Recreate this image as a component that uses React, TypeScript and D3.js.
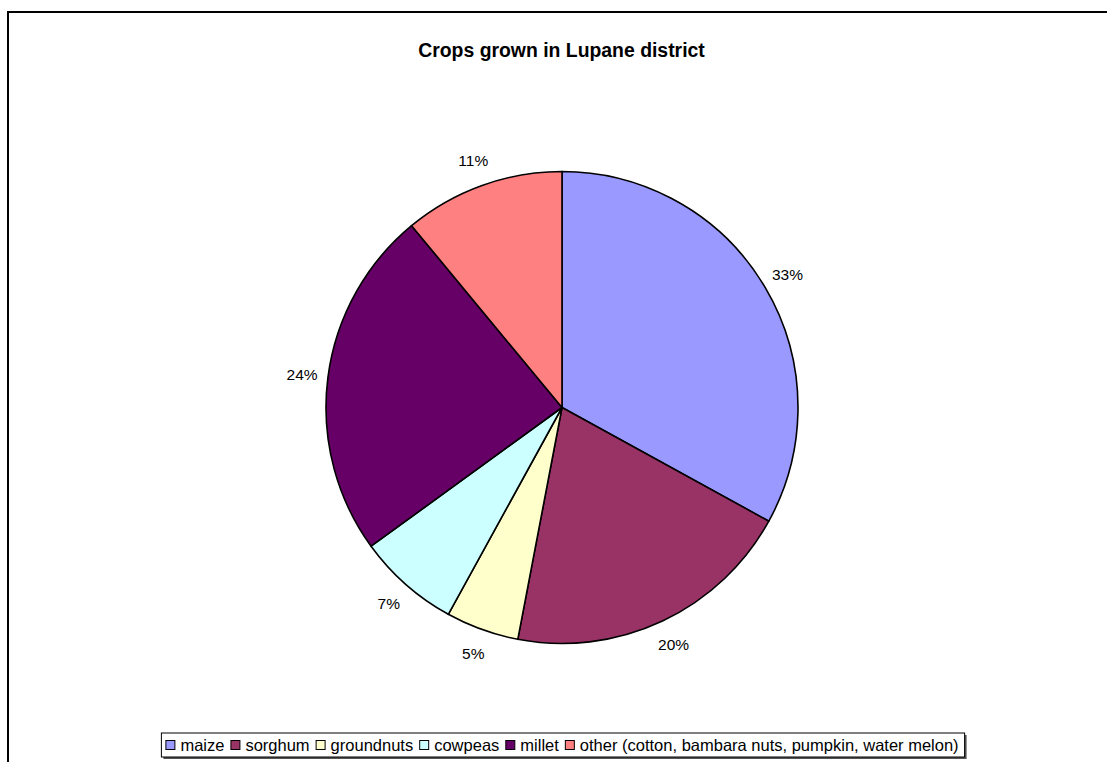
import React, { useEffect, useRef } from "react";
import * as d3 from "d3";

// Share of households growing each crop (percent)
const crops = ["maize", "sorghum", "groundnuts", "cowpeas", "millet", "other (cotton, bambara nuts, pumpkin, water melon)"];
const shares = [33, 20, 5, 7, 24, 11];
const colors = ["#9999FF", "#993366", "#FFFFCC", "#CCFFFF", "#660066", "#FF8080"];
const title = "Crops grown in Lupane district";

const W = 1107;
const H = 762;

export default function App() {
  const ref = useRef<SVGSVGElement | null>(null);

  useEffect(() => {
    const svg = d3.select(ref.current);
    svg.selectAll("*").remove();

    const font = "'Liberation Sans', Arial, sans-serif";

    // chart area frame (runs off the right and bottom of the page)
    svg.append("rect")
      .attr("x", 8).attr("y", 12)
      .attr("width", W + 50).attr("height", H + 50)
      .attr("fill", "#fff").attr("stroke", "#000").attr("stroke-width", 2);

    svg.append("text")
      .attr("x", 561.5).attr("y", 57)
      .attr("text-anchor", "middle")
      .attr("font-family", font).attr("font-weight", "bold").attr("font-size", 19.4)
      .text(title);

    const cx = 562, cy = 407.5, r = 236;
    const data = crops.map((c, i) => ({ name: c, value: shares[i], color: colors[i] }));
    const pie = d3.pie<any>().value((d) => d.value).sort(null);
    const arcs = pie(data);
    const arc = d3.arc<any>().innerRadius(0).outerRadius(r);
    const labelArc = d3.arc<any>().innerRadius(262).outerRadius(262);
    const total = d3.sum(shares);

    const g = svg.append("g").attr("transform", `translate(${cx},${cy})`);
    g.selectAll("path.slice").data(arcs).enter().append("path")
      .attr("d", arc as any)
      .attr("fill", (d: any) => d.data.color)
      .attr("stroke", "#000").attr("stroke-width", 1.6)
      .attr("stroke-linejoin", "round");

    g.selectAll("text.lbl").data(arcs).enter().append("text")
      .attr("transform", (d: any) => `translate(${labelArc.centroid(d)})`)
      .attr("text-anchor", "middle").attr("dy", "0.35em")
      .attr("font-family", font).attr("font-size", 15.5)
      .text((d: any) => `${Math.round((d.data.value / total) * 100)}%`);

    // legend
    const lg = svg.append("g");
    const fs = 16.5;
    const sq = 9;
    const gapIn = 6;
    const gapOut = 6;
    const items: { x: number; w: number }[] = [];
    let x = 0;
    const texts = data.map((d) =>
      lg.append("text")
        .attr("font-family", font).attr("font-size", fs)
        .attr("y", 751)
        .text(d.name)
    );
    texts.forEach((t, i) => {
      const tw = (t.node() as SVGTextElement).getComputedTextLength();
      items.push({ x, w: tw });
      x += sq + gapIn + tw + (i < texts.length - 1 ? gapOut : 0);
    });
    const totalW = x;
    const left = 562 - totalW / 2;
    const boxL = left - 4, boxR = left + totalW + 6;
    lg.insert("rect", ":first-child")
      .attr("x", boxL).attr("y", 733).attr("width", boxR - boxL).attr("height", 24)
      .attr("fill", "#fff").attr("stroke", "#000").attr("stroke-width", 1);
    lg.insert("rect", ":first-child")
      .attr("x", boxL + 2).attr("y", 735).attr("width", boxR - boxL).attr("height", 24)
      .attr("fill", "#555");
    texts.forEach((t, i) => {
      const ix = left + items[i].x;
      lg.append("rect")
        .attr("x", ix + 0.5).attr("y", 740.5).attr("width", sq).attr("height", sq)
        .attr("fill", data[i].color).attr("stroke", "#000").attr("stroke-width", 1);
      t.attr("x", ix + sq + gapIn);
    });
  }, []);

  return (
    <svg
      ref={ref}
      width={W}
      height={H}
      style={{ position: "absolute", left: 0, top: 0, background: "#fff" }}
    />
  );
}
